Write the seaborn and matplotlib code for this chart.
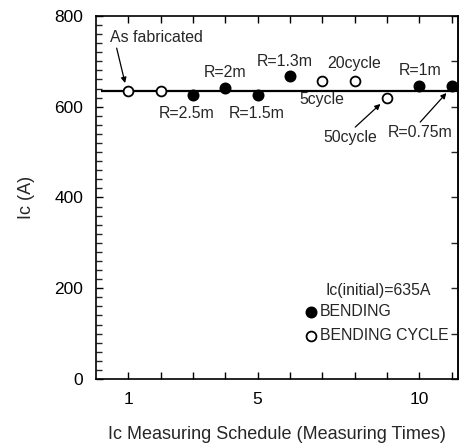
import matplotlib
matplotlib.use("Agg")
import matplotlib.pyplot as plt
import pandas as pd
import seaborn as sns
from matplotlib.ticker import MultipleLocator

# measured Ic per schedule step
schedule = [1, 2, 3, 4, 5, 6, 7, 8, 9, 10, 11]
ic_values = [635, 635, 625, 642, 625, 667, 657, 657, 620, 645, 645]
test_kind = ["BENDING CYCLE", "BENDING CYCLE", "BENDING", "BENDING", "BENDING", "BENDING",
             "BENDING CYCLE", "BENDING CYCLE", "BENDING CYCLE", "BENDING", "BENDING"]
ic_initial = 635
line_span = [0.15, 11.2]

x_ticks = list(range(1, 12))
x_tick_labels = ["1", "", "", "", "5", "", "", "", "", "10", ""]

# (text, x, y)
point_labels = [
    ("R=2m", 4.0, 675),
    ("R=2.5m", 2.8, 586),
    ("R=1.5m", 4.97, 586),
    ("R=1.3m", 5.85, 699),
    ("20cycle", 8.0, 696),
    ("5cycle", 7.0, 615),
    ("R=1m", 10.03, 680),
]
# (text, text_x, text_y, arrow_from, arrow_to)
arrow_labels = [
    ("As fabricated", 1.88, 753, (0.64, 729), (0.9, 652)),
    ("50cycle", 7.87, 531, (8.02, 555), (8.8, 606)),
    ("R=0.75m", 10.03, 542, (10.03, 566), (10.84, 630)),
]

df = pd.DataFrame({"schedule": schedule, "ic": ic_values, "kind": test_kind})

sns.set_theme(style="ticks")
plt.rcParams["font.family"] = ["Liberation Sans", "DejaVu Sans"]

fig = plt.figure(figsize=(4.63, 4.45), dpi=100)
ax = fig.add_axes([0.2073, 0.1483, 0.782, 0.816])

ax.hlines(ic_initial, line_span[0], line_span[1], color="black", linewidth=1.6, zorder=2)

bend = df[df["kind"] == "BENDING"]
cyc = df[df["kind"] == "BENDING CYCLE"]
sns.scatterplot(data=bend, x="schedule", y="ic", ax=ax, s=55, color="black",
                edgecolor="black", linewidth=1.2, zorder=3, legend=False)
sns.scatterplot(data=cyc, x="schedule", y="ic", ax=ax, s=50, color="white",
                edgecolor="black", linewidth=1.3, zorder=3, legend=False)

fs = 11.4
for text, x, y in point_labels:
    ax.text(x, y, text, ha="center", va="center", fontsize=fs)
for text, tx, ty, start, end in arrow_labels:
    ax.text(tx, ty, text, ha="center", va="center", fontsize=fs)
    ax.annotate("", xy=end, xytext=start,
                arrowprops=dict(arrowstyle="-|>", color="black", lw=0.9,
                                mutation_scale=8, shrinkA=0, shrinkB=0))

# legend block
ax.text(7.09, 196, f"Ic(initial)={ic_initial}A", ha="left", va="center", fontsize=fs)
ax.scatter([6.65], [148], s=55, color="black", edgecolor="black", linewidth=1.2)
ax.scatter([6.65], [95], s=50, color="white", edgecolor="black", linewidth=1.3)
ax.text(6.92, 148, "BENDING", ha="left", va="center", fontsize=fs)
ax.text(6.92, 95, "BENDING CYCLE", ha="left", va="center", fontsize=fs)

ax.set_xlim(0, 11.2)
ax.set_ylim(0, 800)
ax.set_xticks(x_ticks)
ax.set_xticklabels(x_tick_labels)
ax.yaxis.set_major_locator(MultipleLocator(200))
ax.yaxis.set_minor_locator(MultipleLocator(20))
ax.tick_params(axis="both", which="major", direction="in", length=5, width=1,
               labelsize=12.5, colors="black", pad=9)
ax.tick_params(axis="y", which="minor", direction="in", length=4, width=1)
ax.tick_params(axis="x", top=True)
ax.tick_params(axis="y", which="both", right=False)

right = ax.secondary_yaxis("right")
right.yaxis.set_major_locator(MultipleLocator(100))
right.tick_params(direction="in", length=5, width=1, labelright=False)
right.spines["right"].set_linewidth(1.2)

for sp in ax.spines.values():
    sp.set_linewidth(1.2)
    sp.set_color("black")

ax.set_xlabel("Ic Measuring Schedule (Measuring Times)", fontsize=13, labelpad=14)
ax.set_ylabel("Ic (A)", fontsize=13, labelpad=14)

fig.savefig("out.png", dpi=100)
